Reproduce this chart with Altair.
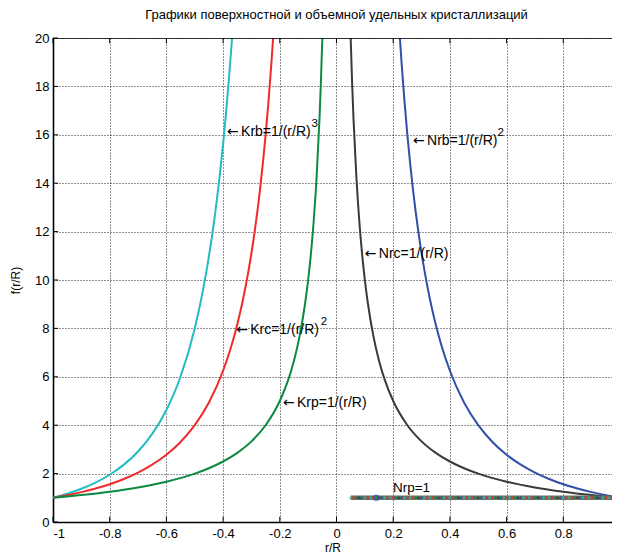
import altair as alt
import pandas as pd

FONT = "Liberation Sans"

title_text = "Графики поверхностной и объемной удельных кристаллизаций"

# Krb = 1/(r/R)^3  (left branch)
krb_x = [-1.0, -0.95, -0.9, -0.85, -0.8, -0.75, -0.7, -0.65, -0.6, -0.55, -0.5,
         -0.47, -0.45, -0.43, -0.41, -0.39, -0.38, -0.3684]
krb_y = [1.0, 1.166, 1.372, 1.628, 1.953, 2.370, 2.915, 3.641, 4.630, 6.011, 8.0,
         9.632, 10.974, 12.578, 14.509, 16.858, 18.224, 20.0]

# Krc = 1/(r/R)^2  (left branch)
krc_x = [-1.0, -0.95, -0.9, -0.85, -0.8, -0.75, -0.7, -0.65, -0.6, -0.55, -0.5,
         -0.45, -0.4, -0.37, -0.35, -0.33, -0.31, -0.29, -0.27, -0.25, -0.24,
         -0.23, -0.2236]
krc_y = [1.0, 1.108, 1.235, 1.384, 1.5625, 1.778, 2.041, 2.367, 2.778, 3.306, 4.0,
         4.938, 6.25, 7.305, 8.163, 9.183, 10.406, 11.891, 13.717, 16.0, 17.361,
         18.904, 20.0]

# Krp = 1/(r/R)  (left branch)
krp_x = [-1.0, -0.9, -0.8, -0.7, -0.6, -0.5, -0.45, -0.4, -0.35, -0.3, -0.25,
         -0.2, -0.17, -0.15, -0.13, -0.11, -0.1, -0.09, -0.08, -0.07, -0.06,
         -0.055, -0.05]
krp_y = [1.0, 1.111, 1.25, 1.429, 1.667, 2.0, 2.222, 2.5, 2.857, 3.333, 4.0,
         5.0, 5.882, 6.667, 7.692, 9.091, 10.0, 11.111, 12.5, 14.286, 16.667,
         18.182, 20.0]

# Nrc = 1/(r/R)  (right branch)
nrc_x = [0.05, 0.055, 0.06, 0.07, 0.08, 0.09, 0.1, 0.11, 0.13, 0.15, 0.17,
         0.2, 0.25, 0.3, 0.35, 0.4, 0.45, 0.5, 0.6, 0.7, 0.8, 0.9, 1.0]
nrc_y = [20.0, 18.182, 16.667, 14.286, 12.5, 11.111, 10.0, 9.091, 7.692, 6.667,
         5.882, 5.0, 4.0, 3.333, 2.857, 2.5, 2.222, 2.0, 1.667, 1.429, 1.25,
         1.111, 1.0]

# Nrb = 1/(r/R)^2  (right branch)
nrb_x = [0.2236, 0.23, 0.24, 0.25, 0.27, 0.29, 0.31, 0.33, 0.35, 0.37, 0.4,
         0.45, 0.5, 0.55, 0.6, 0.65, 0.7, 0.75, 0.8, 0.85, 0.9, 0.95, 1.0]
nrb_y = [20.0, 18.904, 17.361, 16.0, 13.717, 11.891, 10.406, 9.183, 8.163,
         7.305, 6.25, 4.938, 4.0, 3.306, 2.778, 2.367, 2.041, 1.778, 1.5625,
         1.384, 1.235, 1.108, 1.0]

# Nrp = 1  (constant, many markers)
nrp_x = [0.05, 0.06, 0.07, 0.08, 0.09, 0.10, 0.11, 0.12, 0.13, 0.14, 0.15, 0.16,
         0.17, 0.18, 0.19, 0.20, 0.21, 0.22, 0.23, 0.24, 0.25, 0.26, 0.27, 0.28,
         0.29, 0.30, 0.31, 0.32, 0.33, 0.34, 0.35, 0.36, 0.37, 0.38, 0.39, 0.40,
         0.41, 0.42, 0.43, 0.44, 0.45, 0.46, 0.47, 0.48, 0.49, 0.50, 0.51, 0.52,
         0.53, 0.54, 0.55, 0.56, 0.57, 0.58, 0.59, 0.60, 0.61, 0.62, 0.63, 0.64,
         0.65, 0.66, 0.67, 0.68, 0.69, 0.70, 0.71, 0.72, 0.73, 0.74, 0.75, 0.76,
         0.77, 0.78, 0.79, 0.80, 0.81, 0.82, 0.83, 0.84, 0.85, 0.86, 0.87, 0.88,
         0.89, 0.90, 0.91, 0.92, 0.93, 0.94, 0.95, 0.96, 0.97, 0.98, 0.99, 1.00]
nrp_value = 1.0
nrp_marker_x = [0.14]

series_names = ["Krb", "Krc", "Krp", "Nrc", "Nrb"]
series_colors = ["#24bcc0", "#f02a2a", "#0c8a44", "#3a3a3a", "#3050a8"]

label_text = ["Krb=1/(r/R)", "Krc=1/(r/R)", "Krp=1/(r/R)",
              "Nrc=1/(r/R)", "Nrb=1/(r/R)"]
label_x = [-0.386, -0.354, -0.189, 0.100, 0.270]
label_y = [16.12, 7.93, 4.92, 11.07, 15.74]

nrp_label = ["Nrp=1"]
nrp_label_x = [0.199]
nrp_label_y = [1.40]

sup_text = ["3", "2", "2"]
sup_x = [-0.386, -0.354, 0.270]
sup_y = [16.12, 7.93, 15.74]

x_ticks = [-1, -0.8, -0.6, -0.4, -0.2, 0, 0.2, 0.4, 0.6, 0.8]
y_ticks = [0, 2, 4, 6, 8, 10, 12, 14, 16, 18, 20]

# ---------- tables ----------
rows = []
for name, xs, ys in [("Krb", krb_x, krb_y), ("Krc", krc_x, krc_y),
                     ("Krp", krp_x, krp_y), ("Nrc", nrc_x, nrc_y),
                     ("Nrb", nrb_x, nrb_y)]:
    for i, (xv, yv) in enumerate(zip(xs, ys)):
        rows.append({"series": name, "x": xv, "y": yv, "order": i})
curves = pd.DataFrame(rows)

nrp = pd.DataFrame({"x": nrp_x, "y": [nrp_value] * len(nrp_x),
                    "c": [str(i % 7) for i in range(len(nrp_x))]})
nrp_mark = pd.DataFrame({"x": nrp_marker_x, "y": [nrp_value] * len(nrp_marker_x)})
labels = pd.DataFrame({"text": label_text, "x": label_x, "y": label_y})
nrp_lab = pd.DataFrame({"text": nrp_label, "x": nrp_label_x, "y": nrp_label_y})
sups = pd.DataFrame({"text": sup_text, "x": sup_x, "y": sup_y})
xt = pd.DataFrame({"x": x_ticks})
yt = pd.DataFrame({"y": y_ticks})

# the visible window ends just short of r/R = 1 (the reference is cropped there)
x_scale = alt.Scale(domain=[-1, 0.9718], nice=False, zero=False)
y_scale = alt.Scale(domain=[0, 20], nice=False, zero=True)

minus_fix = "replace(format(datum.value, '~g'), '\u2212', '-')"

x_axis = alt.Axis(values=x_ticks, labelExpr=minus_fix, grid=True, gridDash=[1, 2],
                  gridColor="#000000", gridWidth=1, gridOpacity=0.85,
                  ticks=False, domainColor="#000000", domainWidth=1.6,
                  labelFont=FONT, labelFontSize=13, labelColor="#000000",
                  labelPadding=5, title="r/R", titleFont=FONT, titleFontSize=12,
                  titleFontWeight="normal", titleColor="#000000",
                  titleBaseline="alphabetic", titleY=29)
y_axis = alt.Axis(values=y_ticks, grid=True, gridDash=[1, 2],
                  gridColor="#000000", gridWidth=1, gridOpacity=0.85,
                  ticks=False, domainColor="#000000", domainWidth=1.6,
                  labelFont=FONT, labelFontSize=13, labelColor="#000000",
                  labelPadding=4, title="f(r/R)", titleFont=FONT, titleFontSize=12,
                  titleFontWeight="normal", titleColor="#000000", titlePadding=12)


def XE(f="x:Q"):
    return alt.X(f, scale=x_scale, axis=x_axis)


def YE(f="y:Q"):
    return alt.Y(f, scale=y_scale, axis=y_axis)


curve_layer = alt.Chart(curves).mark_line(strokeWidth=2, interpolate="monotone", clip=True).encode(
    x=XE(), y=YE(),
    color=alt.Color("series:N", scale=alt.Scale(domain=series_names, range=series_colors), legend=None),
    order="order:Q",
    detail="series:N",
)

nrp_line = alt.Chart(nrp).mark_line(strokeWidth=4.5, color="#62735f", clip=True).encode(
    x=XE(), y=YE(),
)
nrp_pts = alt.Chart(nrp).mark_circle(size=7, opacity=0.85, clip=True).encode(
    x=XE(), y=YE(),
    color=alt.Color("c:N", scale=alt.Scale(
        domain=["0", "1", "2", "3", "4", "5", "6"],
        range=["#3a55b0", "#2f8a40", "#d03a2a", "#2ab0b0", "#9a4aa0", "#c8b030", "#505050"]),
        legend=None),
)
nrp_circ = alt.Chart(nrp_mark).mark_point(size=25, color="#3050c0", strokeWidth=1.5, filled=False).encode(
    x=XE(), y=YE(),
)

top_ticks = alt.Chart(xt).mark_rule(color="#000000", strokeWidth=1).encode(
    x=XE(), y=alt.datum(20), y2=alt.datum(19.78))
bottom_ticks = alt.Chart(xt).mark_rule(color="#000000", strokeWidth=1).encode(
    x=XE(), y=alt.datum(0), y2=alt.datum(0.22))
left_ticks = alt.Chart(yt).mark_rule(color="#000000", strokeWidth=1).encode(
    y=YE(), x=alt.datum(-1), x2=alt.datum(-0.982))
top_border = alt.Chart(yt).transform_filter("datum.y == 20").mark_rule(
    color="#000000", strokeWidth=1.6, clip=True).encode(
    y=YE(), x=alt.datum(-1), x2=alt.datum(1))

arrow_layer = alt.Chart(labels).mark_text(align="left", baseline="middle", font="DejaVu Sans",
                                          fontSize=14, color="#000000", text="←").encode(
    x=XE(), y=YE(),
)
label_layer = alt.Chart(labels).mark_text(align="left", baseline="middle", font=FONT,
                                          fontSize=14, color="#000000", dx=14).encode(
    x=XE(), y=YE(), text="text:N",
)
nrp_text = alt.Chart(nrp_lab).mark_text(align="left", baseline="middle", font=FONT,
                                        fontSize=13.5, color="#000000").encode(
    x=XE(), y=YE(), text="text:N",
)
sup_layer = alt.Chart(sups).mark_text(align="left", baseline="middle", font=FONT,
                                      fontSize=11.5, color="#000000", dx=84.5, dy=-8).encode(
    x=XE(), y=YE(), text="text:N",
)

chart = alt.layer(
    curve_layer, nrp_line, nrp_pts, nrp_circ, top_border,
    bottom_ticks, top_ticks, left_ticks, arrow_layer, label_layer, nrp_text, sup_layer,
).properties(
    width=559, height=484,
    title=alt.TitleParams(title_text, font=FONT, fontSize=13, fontWeight="normal",
                          color="#000000", anchor="middle", frame="group", offset=10, dx=4),
    autosize=alt.AutoSizeParams(type="none"),
    padding={"left": 45, "top": 30, "right": 0, "bottom": 31},
    background="#ffffff",
).configure_view(stroke=None)

chart.save("out.html", embed_options={"renderer": "svg", "actions": False})
